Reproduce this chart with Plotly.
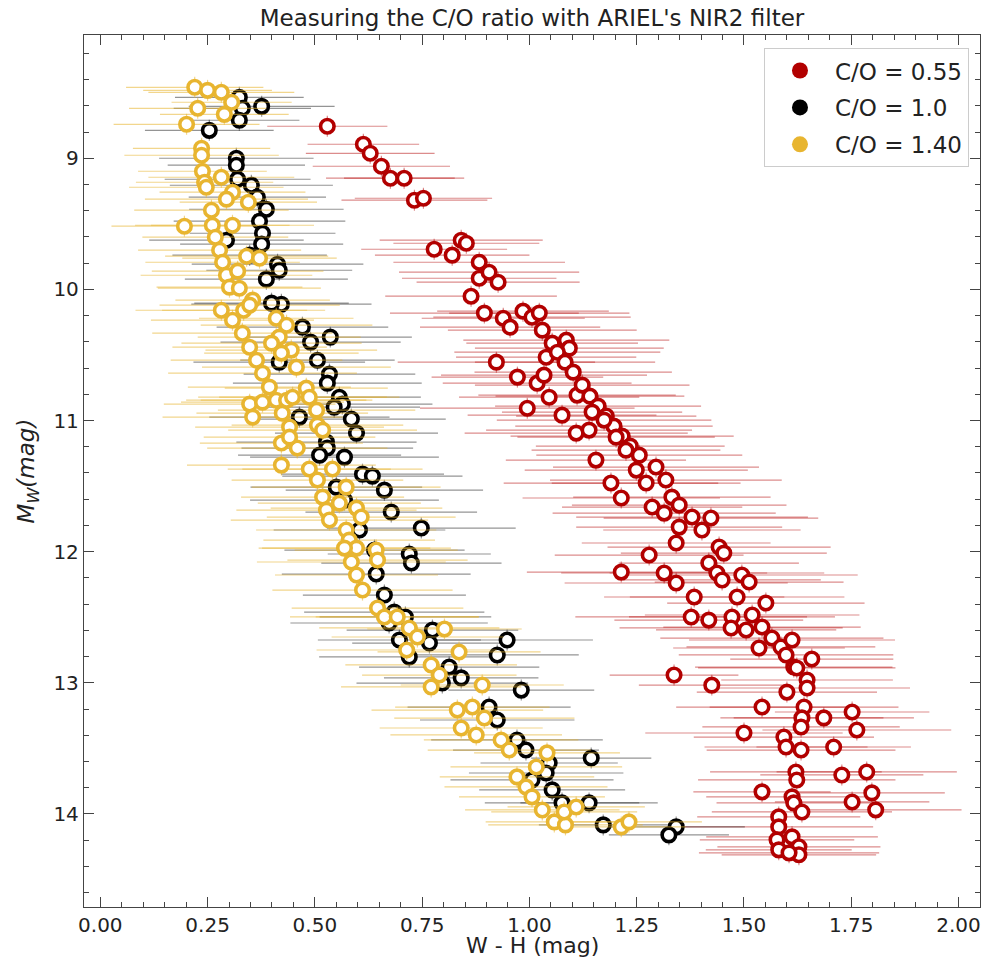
import plotly.graph_objects as go

# ---------------- data ----------------
red_x = [0.529,0.613,0.629,0.655,0.676,0.708,0.732,0.753,
         0.778,0.820,0.841,0.853,0.883,0.883,0.906,0.927,
         0.864,0.895,0.939,0.955,0.985,1.006,1.023,1.030,
         1.053,1.086,1.093,1.039,0.923,0.972,1.018,1.034,1.046,1.111,0.995,1.076,
         1.065,1.083,1.102,1.123,1.141,1.160,1.179,1.197,1.216,1.235,1.256,
         1.146,1.174,1.202,1.225,
         1.109,1.139,1.155,1.190,1.214,
         1.249,1.272,1.295,1.318,1.332,1.349,1.286,1.314,
         1.349,1.342,1.379,1.402,1.423,
         1.279,1.442,1.453,1.418,1.437,1.449,1.495,1.512,1.314,1.342,1.384,1.484,1.551,
         1.377,1.418,1.472,1.470,1.505,1.519,1.542,1.565,1.586,1.612,1.535,1.598,1.616,
         1.337,1.425,1.600,
         1.658,1.623,1.647,1.647,1.640,1.635,1.633,1.686,1.752,1.763,
         1.542,1.500,1.593,1.598,1.633,1.709,
         1.621,1.623,1.728,1.786,1.798,1.807,1.752,
         1.542,1.612,1.616,1.635,
         1.581,1.581,1.577,1.581,1.612,1.628,1.628,1.605,
         1.214]
red_y = [8.756,8.893,8.962,9.061,9.152,9.152,9.320,9.305,
         9.694,9.739,9.625,9.648,9.793,9.915,9.869,9.945,
         10.052,10.181,10.220,10.288,10.166,10.212,10.181,10.311,
         10.410,10.387,10.448,10.517,10.555,10.669,10.715,10.654,10.822,10.806,10.906,10.959,
         10.479,10.555,10.631,10.730,10.814,10.890,10.966,11.043,11.119,11.195,11.264,
         10.936,10.997,11.127,11.226,
         11.096,11.073,11.302,11.477,11.591,
         11.378,11.477,11.355,11.454,11.584,11.645,11.660,11.706,
         11.813,11.934,11.736,11.835,11.744,
         12.026,11.965,12.011,12.087,12.163,12.216,12.178,12.232,12.163,12.239,12.346,12.346,12.392,
         12.498,12.522,12.498,12.582,12.597,12.483,12.575,12.659,12.727,12.674,12.735,12.788,12.880,
         12.941,13.018,13.071,
         12.819,12.887,12.979,13.040,13.185,13.268,13.337,13.268,13.223,13.360,
         13.185,13.383,13.414,13.490,13.513,13.490,
         13.680,13.741,13.703,13.680,13.840,13.969,13.909,
         13.832,13.870,13.916,13.985,
         14.023,14.099,14.198,14.274,14.175,14.251,14.312,14.297,
         12.156]
red_xerr = [0.14,0.13,0.15,0.16,0.15,0.14,0.17,0.16,0.17,0.18,
            0.19,0.17,0.20,0.18,0.21,0.19,0.20,0.22,0.19,0.21,
            0.20,0.23,0.21,0.22,0.20,0.24,0.22,0.21,0.23,0.20,
            0.22,0.24,0.21,0.23,0.25,0.22,0.24,0.21,0.23,0.25,
            0.22,0.24,0.21,0.23,0.26,0.22,0.24,0.21,0.25,0.23,
            0.22,0.26,0.24,0.21,0.25,0.23,0.26,0.22,0.24,0.27,
            0.23,0.25,0.21,0.26,0.24,0.22,0.27,0.23,0.25,0.22,
            0.26,0.24,0.21,0.25,0.23,0.27,0.22,0.24,0.26,0.21,
            0.25,0.23,0.27,0.22,0.24,0.26,0.21,0.25,0.23,0.26,
            0.22,0.24,0.20,0.25,0.23,0.15,0.17,0.21,0.19,0.23,
            0.20,0.24,0.22,0.19,0.23,0.21,0.18,0.22,0.20,0.23,
            0.21,0.19,0.22,0.18,0.20,0.23,0.19,0.21,0.17,0.20,
            0.18,0.16,0.20,0.18,0.21,0.19,0.22,0.18,0.17,0.20,
            0.19,0.18,0.21,0.22]

black_x = [0.324,0.331,0.324,0.376,0.254,0.317,0.317,0.320,0.352,0.366,
           0.387,0.371,0.378,0.376,0.294,0.413,0.417,0.387,0.422,0.399,
           0.471,0.536,0.490,0.506,0.534,0.529,0.557,0.564,0.545,0.585,
           0.597,0.527,0.529,0.569,0.611,0.634,0.662,0.678,0.748,0.720,0.725,
           0.550,
           0.643,0.662,0.685,0.711,0.673,0.697,0.720,
           0.774,0.767,0.948,0.925,0.813,0.841,0.797,0.981,0.906,0.925,
           0.971,0.992,1.046,1.039,1.053,1.006,1.144,1.139,1.076,1.172,
           1.342,1.325,
           0.417,0.464,0.511,0.569,0.604,0.639,0.348]
black_y = [8.535,8.619,8.710,8.604,8.787,9.000,9.053,9.160,9.206,9.297,
           9.389,9.480,9.572,9.655,9.625,9.808,9.854,9.922,10.113,10.105,
           10.288,10.364,10.402,10.540,10.646,10.715,10.822,10.875,10.898,10.989,
           11.096,11.165,11.210,11.279,11.409,11.424,11.531,11.698,11.820,12.018,12.087,
           11.508,
           12.171,12.331,12.461,12.498,12.544,12.674,12.803,
           12.598,12.697,12.674,12.788,12.880,12.963,13.002,13.056,13.185,13.284,
           13.436,13.513,13.612,13.688,13.817,13.741,13.574,13.916,13.916,14.084,
           14.099,14.160,
           10.555,10.974,11.264,11.607,11.835,11.988,9.739]
black_xerr = [0.15,0.16,0.14,0.17,0.15,0.18,0.16,0.17,0.19,0.16,
              0.18,0.20,0.17,0.19,0.18,0.20,0.17,0.19,0.21,0.18,
              0.20,0.19,0.21,0.18,0.20,0.22,0.19,0.21,0.20,0.22,
              0.19,0.21,0.20,0.22,0.19,0.21,0.23,0.20,0.22,0.19,
              0.21,0.20,0.22,0.19,0.21,0.20,0.23,0.19,0.21,0.20,
              0.18,0.20,0.19,0.21,0.18,0.20,0.17,0.19,0.18,0.20,
              0.17,0.16,0.18,0.17,0.19,0.14,0.16,0.18,0.15,0.16,
              0.14,0.20,0.21,0.19,0.22,0.20,0.21,0.18]

yellow_x = [0.220,0.250,0.282,0.306,0.227,0.289,0.201,0.236,0.236,0.238,
            0.282,0.243,0.247,0.308,0.294,0.345,0.259,0.196,0.308,0.261,
            0.268,0.278,0.285,0.294,0.301,0.341,0.371,0.320,0.324,0.355,
            0.282,0.334,0.348,0.410,0.434,0.308,0.331,0.348,0.364,0.378,
            0.394,0.410,0.424,0.441,0.417,0.399,0.445,0.422,0.457,0.348,
            0.378,0.355,0.434,0.448,0.480,0.487,0.504,0.506,0.518,0.422,
            0.459,0.441,0.422,0.487,0.541,0.506,0.573,0.518,0.527,0.534,
            0.597,0.608,0.557,0.573,0.580,0.597,0.643,0.646,0.569,0.585,
            0.597,0.611,0.646,0.662,0.692,0.720,0.739,0.802,0.714,0.836,
            0.771,0.790,0.771,0.890,0.832,0.867,0.895,0.841,0.876,0.934,
            0.953,1.041,1.016,0.971,0.992,1.006,1.030,1.058,1.084,1.081,
            1.109,1.214,1.232]
yellow_y = [8.459,8.482,8.497,8.573,8.619,8.665,8.741,8.924,8.977,9.099,
            9.145,9.183,9.221,9.259,9.312,9.335,9.396,9.518,9.511,9.511,
            9.602,9.701,9.793,9.892,9.983,9.747,9.762,9.861,9.991,10.082,
            10.159,10.159,10.120,10.220,10.273,10.235,10.334,10.441,10.540,10.639,
            10.745,10.845,10.944,11.050,10.364,10.410,10.463,10.486,10.593,10.875,
            10.860,10.974,10.845,10.822,10.753,10.822,10.921,11.035,11.073,11.172,
            11.210,11.127,11.340,11.370,11.370,11.454,11.508,11.584,11.683,11.759,
            11.668,11.736,11.630,11.835,11.912,11.973,11.988,12.064,11.973,12.079,
            12.178,12.293,12.430,12.498,12.498,12.582,12.651,12.590,12.750,12.765,
            12.864,12.941,13.032,13.017,13.208,13.185,13.269,13.345,13.398,13.436,
            13.513,13.535,13.642,13.718,13.794,13.870,13.970,14.061,14.084,13.985,
            13.947,14.099,14.061]
yellow_xerr = [0.16,0.15,0.17,0.14,0.16,0.15,0.17,0.16,0.18,0.15,
               0.17,0.16,0.18,0.17,0.19,0.16,0.18,0.17,0.19,0.18,
               0.17,0.19,0.18,0.20,0.17,0.19,0.18,0.20,0.19,0.18,
               0.20,0.19,0.21,0.18,0.20,0.19,0.21,0.18,0.20,0.22,
               0.19,0.21,0.20,0.22,0.19,0.21,0.20,0.18,0.22,0.20,
               0.19,0.21,0.20,0.22,0.19,0.21,0.23,0.20,0.22,0.19,
               0.21,0.20,0.22,0.19,0.21,0.20,0.22,0.19,0.21,0.23,
               0.20,0.22,0.19,0.21,0.20,0.22,0.19,0.21,0.20,0.22,
               0.19,0.21,0.20,0.22,0.19,0.21,0.20,0.18,0.21,0.19,
               0.20,0.18,0.21,0.19,0.20,0.18,0.21,0.19,0.20,0.18,
               0.19,0.17,0.20,0.18,0.19,0.17,0.18,0.16,0.18,0.17,
               0.16,0.15,0.17]

series_names = ["C/O = 0.55", "C/O = 1.0", "C/O = 1.40"]
tick_vals_x = [0.0, 0.25, 0.5, 0.75, 1.0, 1.25, 1.5, 1.75, 2.0]
tick_vals_y = [9, 10, 11, 12, 13, 14]

# ---------------- styling ----------------
FONT = "DejaVu Sans"
TXT = "#222222"
colors = ["#B20000", "#000000", "#E8B530"]
err_colors = ["rgba(178,0,0,0.45)", "rgba(0,0,0,0.42)", "rgba(232,181,48,0.55)"]
AX = "#444444"

fig = go.Figure()
data = [(red_x, red_y, red_xerr), (black_x, black_y, black_xerr), (yellow_x, yellow_y, yellow_xerr)]
for (xs, ys, ex), c, ec, nm in zip(data, colors, err_colors, series_names):
    fig.add_trace(go.Scatter(
        x=xs, y=ys, mode="markers", name=nm, showlegend=False,
        marker=dict(size=13.5, color="white", line=dict(color=c, width=3.6)),
        error_x=dict(type="data", array=ex, visible=True, color=ec, thickness=1.2, width=0),
        error_y=dict(type="constant", value=0.08, visible=True, color=ec, thickness=1.2, width=0),
    ))

for i, (c, nm) in enumerate(zip(colors, series_names)):
    fig.add_trace(go.Scatter(
        x=[None], y=[None], mode="markers", name=nm, legendgroup=f"g{i}",
        marker=dict(size=17, color=c),
    ))

fig.update_layout(
    width=999, height=961,
    margin=dict(l=84, r=19, t=35, b=54),
    paper_bgcolor="white", plot_bgcolor="white",
    font=dict(family=FONT, size=20, color=TXT),
    title=dict(text="Measuring the C/O ratio with ARIEL's NIR2 filter",
               x=0.5, xref="paper", xanchor="center", y=0.981, yanchor="middle",
               font=dict(family=FONT, size=23, color=TXT)),
    legend=dict(x=0.9877, xanchor="right", y=0.985, yanchor="top",
                bgcolor="white", bordercolor="#cccccc", borderwidth=1,
                font=dict(family=FONT, size=23, color=TXT),
                tracegroupgap=4, itemsizing="trace", itemwidth=60),
    showlegend=True,
    annotations=[dict(text="W - H (mag)", xref="paper", yref="paper",
                      x=0.5, y=-0.0445, xanchor="center", yanchor="middle",
                      showarrow=False, font=dict(family=FONT, size=22, color=TXT))],
)
fig.update_xaxes(
    range=[-0.038, 2.05], tickvals=tick_vals_x, tickformat=".2f", automargin=False,
    showgrid=False, zeroline=False, showline=True, linecolor=AX, linewidth=1.3,
    mirror="ticks", ticks="inside", ticklen=10, tickwidth=1.3, tickcolor=AX,
    minor=dict(ticks="inside", ticklen=5, tickwidth=1.1, tickcolor=AX, dtick=0.05, tick0=0),
    tickfont=dict(family=FONT, size=20, color=TXT),
)
fig.update_yaxes(
    range=[14.71, 8.06], tickvals=tick_vals_y, automargin=False,
    showgrid=False, zeroline=False, showline=True, linecolor=AX, linewidth=1.3,
    mirror="ticks", ticks="inside", ticklen=10, tickwidth=1.3, tickcolor=AX,
    minor=dict(ticks="inside", ticklen=5, tickwidth=1.1, tickcolor=AX, dtick=0.2, tick0=0),
    title=dict(text="<i>M<sub>W</sub>(mag)</i>", font=dict(family=FONT, size=23, color=TXT), standoff=12),
    tickfont=dict(family=FONT, size=20, color=TXT),
)

fig.write_html("out.html")
